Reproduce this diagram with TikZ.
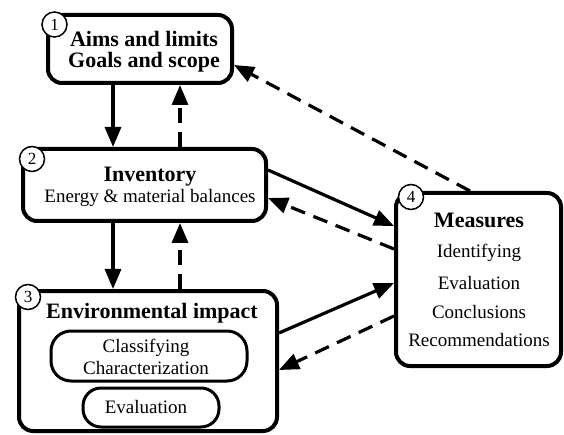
\documentclass[tikz,border=0pt]{standalone}
\usepackage{fontspec}
\setmainfont{Liberation Serif}
\usetikzlibrary{arrows.meta}
\begin{document}
\begin{tikzpicture}[x=1pt,y=-1pt,
 box/.style={draw, line width=4pt, rounded corners=14pt, inner sep=0pt},
 inbox/.style={draw, line width=3pt, rounded corners=20pt, inner sep=0pt},
 num/.style={draw, circle, fill=white, line width=1.5pt, minimum size=25pt, inner sep=0pt, font=\fontsize{17}{17}\selectfont},
 ttl/.style={font=\fontsize{22}{26}\selectfont\bfseries, inner sep=0pt},
 txt/.style={font=\fontsize{19}{22}\selectfont, inner sep=0pt},
 arr/.style={line width=3.2pt, -{Triangle[length=20pt,width=16pt]}},
 darr/.style={arr, dash pattern=on 15pt off 9pt},
]
\useasboundingbox (0,0) rectangle (564,435);
% boxes
\node[box, minimum width=184pt, minimum height=68pt] (b1) at (140,49) {};
\node[box, minimum width=243pt, minimum height=72pt] (b2) at (144.5,185) {};
\node[box, minimum width=258pt, minimum height=140pt] (b3) at (148,361) {};
\node[box, minimum width=165pt, minimum height=173pt] (b4) at (478.5,279.5) {};
\node[inbox, minimum width=196pt, minimum height=50pt] (c1) at (149,356) {};
\node[inbox, minimum width=136pt, minimum height=39pt, rounded corners=18pt] (c2) at (151,407.5) {};
% numbers
\node[num] (n1) at (54.5,24.5) {1};
\node[num] (n2) at (32,159) {2};
\node[num] (n3) at (28,297) {3};
\node[num] (n4) at (411,197) {4};
% texts
\node[ttl] (t1a) at (144,39) {Aims and limits};
\node[ttl] (t1b) at (144,62) {Goals and scope};
\node[ttl] (t2a) at (150,177) {Inventory};
\node[txt] (t2b) at (150,198) {Energy \& material balances};
\node[ttl] (t3) at (152,313) {Environmental impact};
\node[txt] (t3a) at (146,348) {Classifying};
\node[txt] (t3b) at (146,368) {Characterization};
\node[txt] (t3c) at (146,407) {Evaluation};
\node[ttl] (t4) at (479,220) {Measures};
\node[txt] (t4a) at (479,253) {Identifying};
\node[txt] (t4b) at (479,283) {Evaluation};
\node[txt] (t4c) at (479,312) {Conclusions};
\node[txt] (t4d) at (479,340) {Recommendations};
% connectors
\draw[arr] ([xshift=-27pt]b1.south) -- ([xshift=-31.5pt]b2.north);
\draw[darr] ([xshift=35.5pt]b2.north) -- ([xshift=40pt]b1.south);
\draw[arr] ([xshift=-31.5pt]b2.south) -- ([xshift=-35pt]b3.north);
\draw[darr] ([xshift=32pt]b3.north) -- ([xshift=35.5pt]b2.south);
\draw[darr] ([xshift=-8.5pt]b4.north) -- ([yshift=-16pt]b1.east);
\draw[arr] ([yshift=15pt]b2.east) -- ([yshift=53.5pt]b4.west);
\draw[darr] ([yshift=30.5pt]b4.west) -- ([yshift=-13pt]b2.east);
\draw[arr] ([yshift=28pt]b3.east) -- ([yshift=-3.5pt]b4.west);
\draw[darr] ([yshift=-36.5pt]b4.west) -- ([yshift=-9pt]b3.east);
\end{tikzpicture}
\end{document}
